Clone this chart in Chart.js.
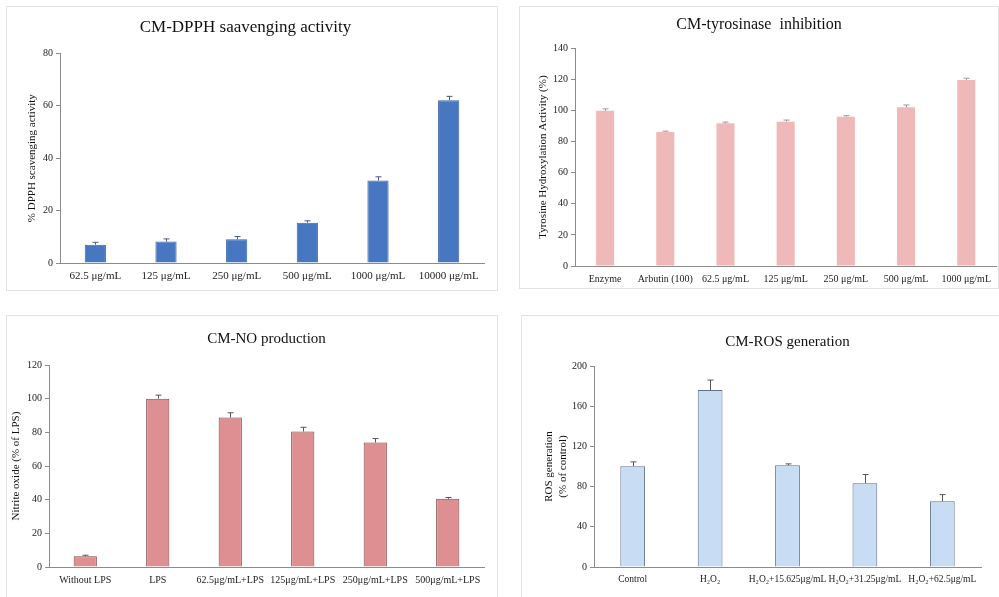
<!DOCTYPE html>
<html>
<head>
<meta charset="utf-8">
<script src="https://cdn.jsdelivr.net/npm/chart.js@4.4.0/dist/chart.umd.min.js"></script>
<style>
  body { margin: 0; background: #fff; width: 999px; height: 597px; overflow: hidden; position: relative; }
  .panel { position: absolute; border: 1px solid #e2e2e2; box-sizing: border-box; }
  .panel canvas { position: absolute; left: 0; top: 0; }
</style>
</head>
<body>
<div class="panel" id="p1" style="left:6px;top:6px;width:492px;height:285px"><canvas id="c1"></canvas></div>
<div class="panel" id="p2" style="left:519px;top:6px;width:480px;height:283px"><canvas id="c2"></canvas></div>
<div class="panel" id="p3" style="left:6px;top:315px;width:492px;height:290px"><canvas id="c3"></canvas></div>
<div class="panel" id="p4" style="left:521px;top:315px;width:480px;height:290px"><canvas id="c4"></canvas></div>
<script>
// DPPH scavenging
const dpphLabels = ['62.5 μg/mL', '125 μg/mL', '250 μg/mL', '500 μg/mL', '1000 μg/mL', '10000 μg/mL'];
const dpphValues = [7.0, 8.2, 9.1, 15.4, 31.5, 62.1];
const dpphErrors = [0.9, 1.0, 1.0, 0.7, 1.4, 1.5];

// tyrosinase inhibition
const tyrLabels = ['Enzyme', 'Arbutin (100)', '62.5 μg/mL', '125 μg/mL', '250 μg/mL', '500 μg/mL', '1000 μg/mL'];
const tyrValues = [99.8, 86.1, 91.7, 92.8, 96.0, 102.0, 119.6];
const tyrErrors = [1.2, 0.6, 0.8, 1.0, 0.6, 1.5, 1.1];

// NO production
const noLabels = ['Without LPS', 'LPS', '62.5μg/mL+LPS', '125μg/mL+LPS', '250μg/mL+LPS', '500μg/mL+LPS'];
const noValues = [6.4, 100, 88.8, 80.5, 73.9, 40.5];
const noErrors = [0.6, 2.1, 2.8, 2.5, 2.4, 0.8];

// ROS generation
const rosLabels = ['Control', 'H₂O₂', 'H₂O₂+15.625μg/mL', 'H₂O₂+31.25μg/mL', 'H₂O₂+62.5μg/mL'];
const rosValues = [100.3, 176, 101.3, 83.4, 65.4];
const rosErrors = [4.3, 10, 1.3, 8.6, 6.6];

const serif = 'Liberation Serif';

// draws error bars (upper whisker only) from dataset.errors
const errorBars = {
  id: 'errorBars',
  afterDatasetsDraw(chart, args, opts) {
    const ctx = chart.ctx;
    const ds = chart.data.datasets[0];
    const meta = chart.getDatasetMeta(0);
    const y = chart.scales.y;
    ctx.save();
    ctx.strokeStyle = opts.color || '#555';
    ctx.lineWidth = 1;
    meta.data.forEach((bar, i) => {
      const top = y.getPixelForValue(ds.data[i] + ds.errors[i]);
      const x = Math.round(bar.x) + 0.5;
      ctx.beginPath();
      ctx.moveTo(x, bar.y);
      ctx.lineTo(x, top);
      ctx.moveTo(x - 3, top);
      ctx.lineTo(x + 3, top);
      ctx.stroke();
    });
    ctx.restore();
  }
};

function makeChart(id, w, h, cfg) {
  const canvas = document.getElementById(id);
  canvas.width = w;
  canvas.height = h;
  canvas.style.width = w + 'px';
  canvas.style.height = h + 'px';
  new Chart(canvas, {
    type: 'bar',
    plugins: [errorBars],
    data: {
      labels: cfg.labels,
      datasets: [{
        data: cfg.values,
        errors: cfg.errors,
        backgroundColor: cfg.fill,
        borderColor: cfg.border,
        borderWidth: cfg.borderWidth,
        barPercentage: cfg.barPct,
        categoryPercentage: 1
      }]
    },
    options: {
      responsive: false,
      animation: false,
      devicePixelRatio: 1,
      layout: { padding: { left: 0, right: cfg.padRight, top: 0, bottom: 0 } },
      plugins: {
        legend: { display: false },
        tooltip: { enabled: false },
        errorBars: { color: cfg.errColor },
        title: {
          display: true,
          text: cfg.title,
          fullSize: cfg.titleFull,
          color: '#111',
          font: { family: serif, size: cfg.titleSize, weight: 'normal' },
          padding: { top: cfg.titleTop, bottom: cfg.titleBottom }
        }
      },
      scales: {
        x: {
          grid: { display: false, drawTicks: false },
          border: { display: true, color: '#8c8c8c' },
          ticks: {
            color: '#222', padding: 7, maxRotation: 0, autoSkip: false,
            font: { family: serif, size: cfg.xFont }
          },
          afterFit: s => { s.height = cfg.xHeight; }
        },
        y: {
          min: 0, max: cfg.yMax,
          grid: { display: true, drawOnChartArea: false, drawTicks: true, tickLength: 4, color: '#8c8c8c' },
          border: { display: true, color: '#8c8c8c' },
          ticks: {
            stepSize: cfg.yStep, color: '#222', padding: 3,
            font: { family: serif, size: cfg.yFont }
          },
          title: {
            display: true,
            text: cfg.yTitle,
            color: '#111',
            font: { family: serif, size: 11 },
            padding: { top: cfg.yTitlePad, bottom: 0 }
          },
          afterFit: s => { s.width = cfg.yWidth; }
        }
      }
    }
  });
}

makeChart('c1', 490, 283, {
  labels: dpphLabels, values: dpphValues, errors: dpphErrors,
  fill: '#4677c0', border: '#3b66a8', borderWidth: 1, barPct: 0.3, errColor: '#4a5a7a',
  title: 'CM-DPPH saavenging activity', titleSize: 17, titleFull: true, titleTop: 10, titleBottom: 16,
  yMax: 80, yStep: 20, yTitle: '% DPPH scavenging activity', yTitlePad: 19, yWidth: 53,
  xFont: 11, yFont: 10, xHeight: 27, padRight: 13
});

makeChart('c2', 478, 281, {
  labels: tyrLabels, values: tyrValues, errors: tyrErrors,
  fill: '#f0b9b9', border: '#f0b9b9', borderWidth: 0, barPct: 0.3, errColor: '#999',
  title: 'CM-tyrosinase  inhibition', titleSize: 16, titleFull: true, titleTop: 8, titleBottom: 14,
  yMax: 140, yStep: 20, yTitle: 'Tyrosine Hydroxylation Activity (%)', yTitlePad: 17, yWidth: 55,
  xFont: 10, yFont: 10, xHeight: 22, padRight: 0
});

makeChart('c3', 490, 281, {
  labels: noLabels, values: noValues, errors: noErrors,
  fill: '#de8f92', border: '#7f4444', borderWidth: 1, barPct: 0.32, errColor: '#555',
  title: 'CM-NO production', titleSize: 15, titleFull: false, titleTop: 14, titleBottom: 17,
  yMax: 120, yStep: 20, yTitle: 'Nitrite oxide (% of LPS)', yTitlePad: 3, yWidth: 42,
  xFont: 10, yFont: 10, xHeight: 30, padRight: 13
});

makeChart('c4', 478, 281, {
  labels: rosLabels, values: rosValues, errors: rosErrors,
  fill: '#c8dcf4', border: '#5f708a', borderWidth: 1, barPct: 0.32, errColor: '#555',
  title: 'CM-ROS generation', titleSize: 15, titleFull: false, titleTop: 17, titleBottom: 15,
  yMax: 200, yStep: 40, yTitle: ['ROS generation', '(% of control)'], yTitlePad: 21, yWidth: 72,
  xFont: 9.5, yFont: 10, xHeight: 30, padRight: 19
});
</script>
</body>
</html>
